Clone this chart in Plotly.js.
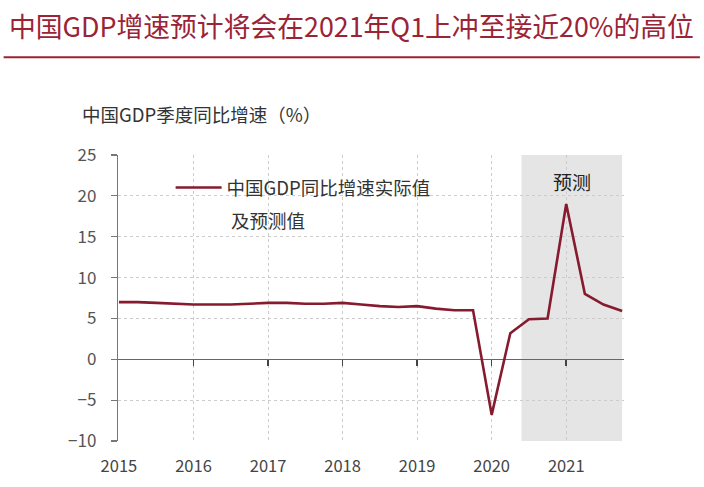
<!DOCTYPE html>
<html>
<head>
<meta charset="utf-8">
<script src="https://cdn.plot.ly/plotly-3.0.1.min.js"></script>
<style>html,body{margin:0;padding:0;background:#fff;}#chart{width:704px;height:487px;}</style>
</head>
<body>
<div id="chart"></div>
<script>
const quarters = [
  "2015Q1","2015Q2","2015Q3","2015Q4",
  "2016Q1","2016Q2","2016Q3","2016Q4",
  "2017Q1","2017Q2","2017Q3","2017Q4",
  "2018Q1","2018Q2","2018Q3","2018Q4",
  "2019Q1","2019Q2","2019Q3","2019Q4",
  "2020Q1","2020Q2","2020Q3","2020Q4",
  "2021Q1","2021Q2","2021Q3","2021Q4"
];
const gdpGrowth = [
  7.0, 7.0, 6.9, 6.8,
  6.7, 6.7, 6.7, 6.8,
  6.9, 6.9, 6.8, 6.8,
  6.9, 6.7, 6.5, 6.4,
  6.5, 6.2, 6.0, 6.0,
  -6.8, 3.2, 4.9, 5.0,
  19.0, 8.0, 6.7, 5.9
];
const yearTickVals = ["2015Q1","2016Q1","2017Q1","2018Q1","2019Q1","2020Q1","2021Q1"];
const yearTickText = ["2015","2016","2017","2018","2019","2020","2021"];
const yTickVals = [-10, -5, 0, 5, 10, 15, 20, 25];
const seriesName = "中国GDP同比增速实际值";
const seriesName2 = "及预测值";
const forecastLabel = "预测";
const chartTitle = "中国GDP增速预计将会在2021年Q1上冲至接近20%的高位";
const yTitle = "中国GDP季度同比增速（%）";

const FONT = '"Noto Sans CJK SC", "Microsoft YaHei", sans-serif';
const RED = '#9b2336';
const LINE = '#861a2e';
const xRange = [-0.05, 27.1];

const traces = [
  {
    x: quarters, y: gdpGrowth, type: 'scatter', mode: 'lines',
    name: seriesName,
    line: {color: LINE, width: 2.6},
    hoverinfo: 'x+y'
  },
  {
    x: quarters, y: gdpGrowth, type: 'scatter', mode: 'lines',
    xaxis: 'x2', showlegend: false, hoverinfo: 'skip',
    line: {color: 'rgba(0,0,0,0)', width: 0}
  }
];

const layout = {
  width: 704, height: 487,
  margin: {l: 117.5, r: 80, t: 155, b: 45.5},
  paper_bgcolor: '#fff', plot_bgcolor: '#fff',
  font: {family: FONT, color: '#444', size: 16},
  title: {
    text: chartTitle,
    font: {family: FONT, size: 26.8, color: RED},
    x: 9/704, xanchor: 'left', xref: 'container',
    y: 1 - 28/487, yanchor: 'middle', yref: 'container'
  },
  xaxis: {
    type: 'category',
    categoryorder: 'array', categoryarray: quarters,
    range: xRange,
    tickmode: 'array', tickvals: yearTickVals, ticktext: yearTickText,
    showgrid: true, gridcolor: '#cccccc', griddash: 'dot', gridwidth: 1,
    showline: false, zeroline: false, ticks: '',
    tickfont: {family: FONT, size: 16.5, color: '#444'},
    ticklabelstandoff: 13,
    fixedrange: true
  },
  xaxis2: {
    type: 'category',
    categoryorder: 'array', categoryarray: quarters,
    overlaying: 'x', anchor: 'free', position: 10/35, side: 'bottom',
    range: xRange,
    tickmode: 'array', tickvals: yearTickVals.slice(1),
    showticklabels: false, showgrid: false, showline: false, zeroline: false,
    ticks: 'outside', ticklen: 6, tickwidth: 1.5, tickcolor: '#444',
    layer: 'above traces',
    fixedrange: true
  },
  yaxis: {
    range: [-10, 25],
    tickmode: 'array', tickvals: yTickVals,
    showgrid: true, gridcolor: '#cccccc', griddash: 'dot', gridwidth: 1,
    showline: true, linecolor: '#777', linewidth: 1.2,
    ticks: 'outside', ticklen: 6, tickcolor: '#777', tickwidth: 1.2,
    zeroline: true, zerolinecolor: '#666', zerolinewidth: 1.5,
    tickfont: {family: FONT, size: 17, color: '#555'},
    ticklabelstandoff: 11,
    fixedrange: true
  },
  showlegend: true,
  legend: {
    x: 0.104, xanchor: 'left', xref: 'paper',
    y: (441.5 - 188) / 286.5, yanchor: 'middle', yref: 'paper',
    bgcolor: 'rgba(0,0,0,0)', borderwidth: 0,
    font: {family: FONT, size: 18.5, color: '#333'},
    itemwidth: 46
  },
  shapes: [
    {
      type: 'rect', xref: 'x', yref: 'paper', layer: 'below',
      x0: 21.6, x1: 27.0, y0: 0, y1: 1,
      fillcolor: '#e5e5e5', line: {width: 0}
    },
    {
      type: 'line', xref: 'paper', yref: 'paper',
      x0: (3 - 117.5) / 506.5, x1: (700 - 117.5) / 506.5,
      y0: (441.5 - 57) / 286.5, y1: (441.5 - 57) / 286.5,
      line: {color: RED, width: 2}
    }
  ],
  annotations: [
    {
      text: yTitle, xref: 'paper', yref: 'paper',
      x: (79 - 117.5) / 506.5, y: (441.5 - 114) / 286.5,
      xanchor: 'left', yanchor: 'middle', showarrow: false,
      font: {family: FONT, size: 18.5, color: '#333'}
    },
    {
      text: seriesName2, xref: 'paper', yref: 'paper',
      x: (229 - 117.5) / 506.5, y: (441.5 - 220) / 286.5,
      xanchor: 'left', yanchor: 'middle', showarrow: false,
      font: {family: FONT, size: 18.5, color: '#333'}
    },
    {
      text: forecastLabel, xref: 'paper', yref: 'paper',
      x: (572 - 117.5) / 506.5, y: (441.5 - 182) / 286.5,
      xanchor: 'center', yanchor: 'middle', showarrow: false,
      font: {family: FONT, size: 19, color: '#222'}
    }
  ]
};

Plotly.newPlot('chart', traces, layout, {displayModeBar: false, staticPlot: true});
</script>
</body>
</html>
